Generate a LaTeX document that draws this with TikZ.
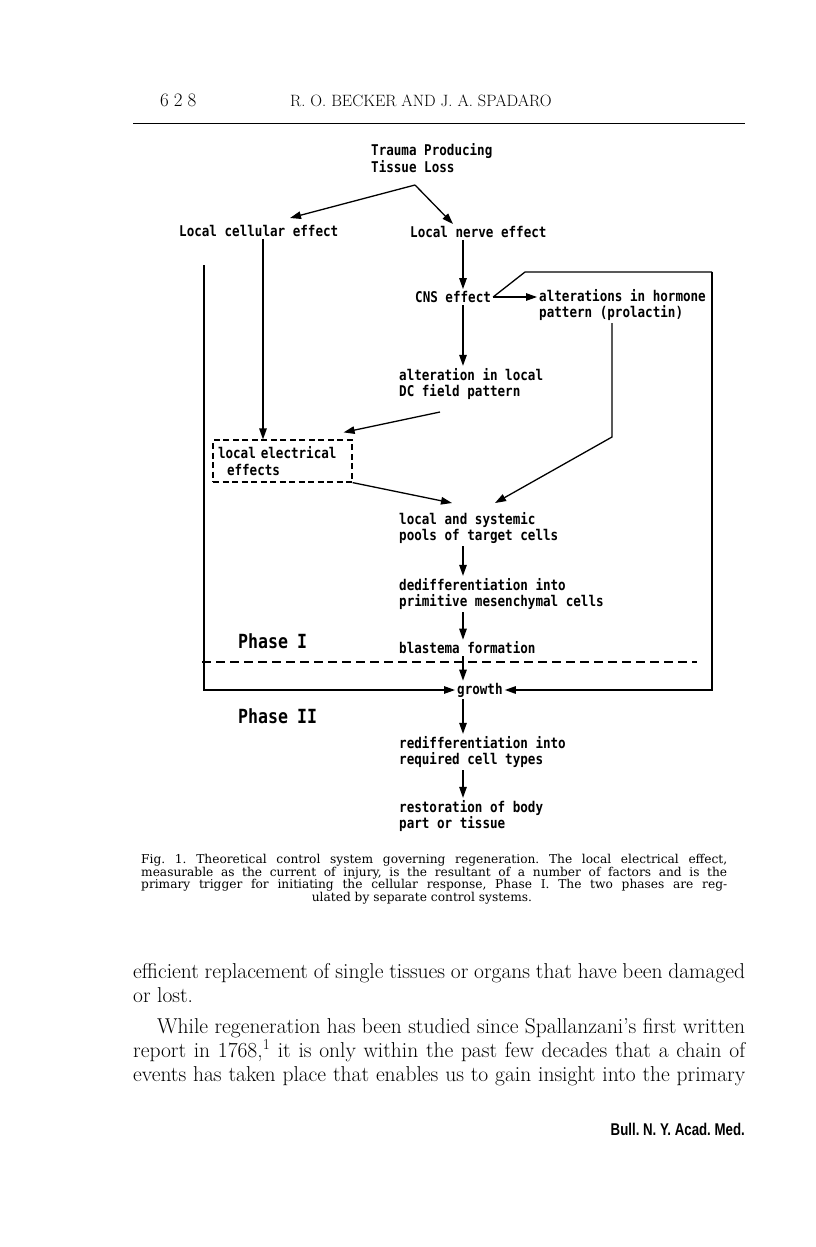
\documentclass[tikz,border=0pt]{standalone}
\usepackage{fontspec}
\newfontfamily\lblfont[FakeStretch=0.85]{DejaVu Sans Mono}
\newfontfamily\capfont{DejaVu Serif}
\newfontfamily\footfont[FakeStretch=0.78]{Liberation Sans}
\usetikzlibrary{arrows.meta,calc}
\frenchspacing

\begin{document}
\begin{tikzpicture}[x=1pt, y=-1pt,
  lbl/.style={font=\lblfont\bfseries\fontsize{14.8}{16.8}\selectfont, align=left, anchor=west, inner sep=2pt},
  phaselbl/.style={font=\lblfont\bfseries\fontsize{19.5}{21}\selectfont, anchor=west, inner sep=0pt},
  arr/.style={-{Triangle[length=11pt,width=7.5pt]}, line width=1.3pt},
  link/.style={line width=1.3pt},
  bodyline/.style={font=\fontsize{21.5}{24}\selectfont, anchor=base west, inner sep=0pt},
  capline/.style={font=\capfont\fontsize{12.2}{12.5}\selectfont, anchor=base west, inner sep=0pt}]

  % page frame (fixes the bounding box)
  \useasboundingbox[fill=white] (0,0) rectangle (816,1247);

  % ---- running head ----
  \node[font=\fontsize{19}{20}\selectfont, anchor=base west, inner sep=0pt] (pageno) at (160,106) {6\hspace{5pt}2\hspace{5pt}8};
  \node[font=\fontsize{16.4}{17}\selectfont, anchor=base west, inner sep=0pt] (authors) at (290,106) {R. O. BECKER AND J. A. SPADARO};
  \coordinate (ruleL) at (133,123);
  \coordinate (ruleR) at (745,123);
  \draw[line width=1pt] (ruleL) -- (ruleR);

  % ---- diagram nodes ----
  \node[lbl] (trauma)   at (369,158) {Trauma Producing\\Tissue Loss};
  \node[lbl] (cellular) at (177,231) {Local cellular effect};
  \node[lbl] (nerve)    at (408,232) {Local nerve effect};
  \node[lbl] (cns)      at (413,297) {CNS effect};
  \node[lbl] (hormone)  at (537,305) {alterations in hormone\\pattern (prolactin)};
  \node[lbl] (dcfield)  at (397,384) {alteration in local\\DC field pattern};
  \node[lbl, anchor=center, draw, dashed, dash pattern=on 6pt off 3.5pt, line width=1.2pt,
        text width=129pt, inner sep=5pt, minimum height=42pt] (elec) at (282.5,461)
        {local electrical\\\hspace*{9pt}effects};
  \node[lbl] (pools)    at (397,528) {local and systemic\\pools of target cells};
  \node[lbl] (dediff)   at (397,594) {dedifferentiation into\\primitive mesenchymal cells};
  \node[lbl] (blastema) at (397,648) {blastema formation};
  \node[phaselbl] (phaseI)  at (238,641) {Phase\hspace{9pt}I};
  \node[lbl] (growth)   at (455,690) {growth};
  \node[phaselbl] (phaseII) at (238,716) {Phase\hspace{9pt}II};
  \node[lbl] (rediff)   at (397,752) {redifferentiation into\\required cell types};
  \node[lbl] (restore)  at (397,816) {restoration of body\\part or tissue};

  % ---- helper points ----
  \coordinate (spine)  at (463,0);
  \coordinate (apex)   at (415,185);
  \coordinate (tipL)   at (290,218);
  \coordinate (tipR)   at (453,224);
  \coordinate (cellx)  at (263,0);
  \coordinate (kink)   at (525,272);
  \coordinate (loopR)  at (712,272);
  \coordinate (loopL)  at (204,265);
  \coordinate (dctail) at (440,412);
  \coordinate (hormx)  at (612,0);
  \coordinate (hbend)  at (612,437);
  \coordinate (poolL)  at (452,503);
  \coordinate (poolR)  at (495,503);
  \coordinate (phL)    at (202,662);
  \coordinate (phR)    at (697,662);

  % ---- connectors ----
  \draw[arr] (apex) -- (tipL);
  \draw[arr] (apex) -- (tipR);
  \draw[arr] (cellular.south -| cellx) -- (elec.north -| cellx);
  \draw[arr] (nerve.south -| spine) -- (cns.north -| spine);
  \draw[arr] (cns.east) -- (cns.east -| hormone.west);
  \draw[link] (cns.east) -- (kink) -- (loopR);
  \draw[arr] (loopR) |- (growth.east);
  \draw[arr] (loopL) |- (growth.west);
  \draw[arr] (cns.south -| spine) -- (dcfield.north -| spine);
  \draw[arr] (dctail) -- ([xshift=-9pt, yshift=7pt]elec.north east);
  \draw[arr] (hormone.south -| hormx) -- (hbend) -- (poolR);
  \draw[arr] (elec.south east) -- (poolL);
  \draw[arr] (pools.south -| spine) -- (dediff.north -| spine);
  \draw[arr] (dediff.south -| spine) -- (blastema.north -| spine);
  \draw[arr] (blastema.south -| spine) -- (growth.north -| spine);
  \draw[arr] (growth.south -| spine) -- (rediff.north -| spine);
  \draw[arr] (rediff.south -| spine) -- (restore.north -| spine);

  % phase boundary
  \draw[line width=1.2pt, dash pattern=on 9pt off 5pt] (phL) -- (phR);

  % ---- caption ----
  \node[capline] (cap1) at (141,863) {\makebox[586pt][s]{Fig. 1. Theoretical control system governing regeneration. The local electrical effect,}};
  \node[capline] (cap2) at (141,876) {\makebox[586pt][s]{measurable as the current of injury, is the resultant of a number of factors and is the}};
  \node[capline] (cap3) at (141,888) {\makebox[586pt][s]{primary trigger for initiating the cellular response, Phase I. The two phases are reg-}};
  \node[capline, anchor=base] (cap4) at (422,901) {ulated by separate control systems.};

  % ---- body text ----
  \node[bodyline] (txt1) at (133,978) {\makebox[612pt][s]{efficient replacement of single tissues or organs that have been damaged}};
  \node[bodyline] (txt2) at (133,1002) {or lost.};
  \node[bodyline] (txt3) at (157,1033) {\makebox[588pt][s]{While regeneration has been studied since Spallanzani's first written}};
  \node[bodyline] (txt4) at (133,1057) {\makebox[612pt][s]{report in 1768,\textsuperscript{1} it is only within the past few decades that a chain of}};
  \node[bodyline] (txt5) at (133,1081) {\makebox[612pt][s]{events has taken place that enables us to gain insight into the primary}};

  % ---- foot ----
  \node[font=\footfont\bfseries\fontsize{17}{19}\selectfont, anchor=base east, inner sep=0pt] (journal) at (745,1135) {Bull. N. Y. Acad. Med.};

\end{tikzpicture}
\end{document}
